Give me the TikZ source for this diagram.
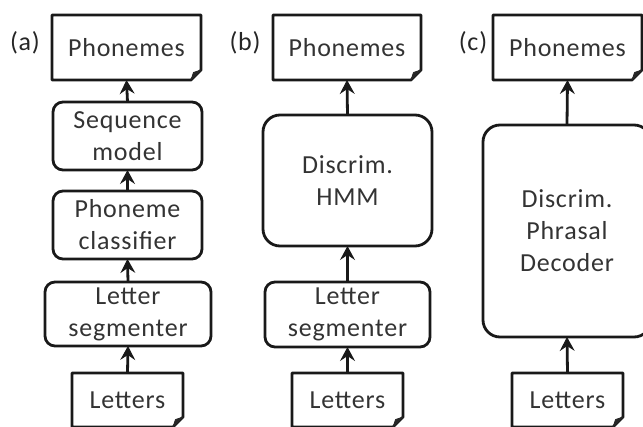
\documentclass[tikz,border=0pt]{standalone}
\usepackage{fontspec}
\setmainfont[LetterSpace=3]{Carlito}
\usetikzlibrary{arrows.meta}

\tikzset{
  txt/.style={font=\fontsize{26}{32}\selectfont, text=black!80, align=center, inner sep=0pt, outer sep=0pt},
  docnode/.style={txt, draw=none},
  stepbox/.style={txt, draw=black!90, line width=2.8pt, rounded corners=10pt},
  bigbox/.style={txt, draw=black!90, line width=2.8pt, rounded corners=17pt},
  docline/.style={draw=black!90, line width=2.8pt, line join=round},
  flap/.style={fill=black!85, draw=black!85, line width=0.8pt, line join=round},
  arr/.style={draw=black!90, line width=2.8pt, -{Stealth[length=14pt, width=15pt, inset=5pt, line width=1pt]}},
  tag/.style={font=\fontsize{26}{32}\selectfont, text=black!85, inner sep=0pt},
}

% folded-corner document outline around a named node
\newcommand\docoutline[1]{%
  \draw[docline] (#1.north west) -- (#1.north east) -- ([yshift=10pt]#1.south east)
    -- ([xshift=-10pt]#1.south east) -- (#1.south west) -- cycle;
  \filldraw[flap] ([yshift=10pt]#1.south east) -- ([xshift=-10pt]#1.south east)
    -- ([xshift=-7.5pt,yshift=7.5pt]#1.south east) -- cycle;
}

\begin{document}
\begin{tikzpicture}[x=1pt, y=-1pt]
\useasboundingbox (0,0) rectangle (643,426);
\clip (0,0) rectangle (643,426);

% column (a)
\node[tag] (ta) at (25,43) {(a)};
\node[docnode, minimum width=149, minimum height=65] (pa) at (126.5,47.5) {Phonemes};
\node[stepbox, minimum width=149, minimum height=68] (sa) at (127.5,136) {Sequence\\model};
\node[stepbox, minimum width=149, minimum height=68] (ca) at (127.5,225) {Phoneme\\classifier};
\node[stepbox, minimum width=166, minimum height=64] (ga) at (128,314) {Letter\\segmenter};
\node[docnode, minimum width=111, minimum height=54] (la) at (127.5,400) {Letters};
\docoutline{pa}
\docoutline{la}
\draw[arr] (la.north) -- (ga.south);
\draw[arr] (ga.north) -- (ca.south);
\draw[arr] (ca.north) -- (sa.south);
\draw[arr] (sa.north) -- (pa.south);

% column (b)
\node[tag] (tb) at (245,43) {(b)};
\node[docnode, minimum width=148, minimum height=65] (pb) at (347,47.5) {Phonemes};
\node[bigbox, minimum width=169, minimum height=131] (hb) at (347.5,180.5) {Discrim.\\HMM};
\node[stepbox, minimum width=165, minimum height=65] (gb) at (347.5,314.5) {Letter\\segmenter};
\node[docnode, minimum width=111, minimum height=54] (lb) at (347.5,400) {Letters};
\docoutline{pb}
\docoutline{lb}
\draw[arr] (lb.north) -- (gb.south);
\draw[arr] (gb.north) -- (hb.south);
\draw[arr] (hb.north) -- (pb.south);

% column (c)
\node[tag] (tc) at (473,43) {(c)};
\node[docnode, minimum width=149, minimum height=65] (pc) at (567.5,47.5) {Phonemes};
\node[bigbox, minimum width=168, minimum height=212] (dc) at (567,231) {Discrim.\\Phrasal\\Decoder};
\node[docnode, minimum width=111, minimum height=54] (lc) at (567.5,400) {Letters};
\docoutline{pc}
\docoutline{lc}
\draw[arr] (lc.north) -- (dc.south);
\draw[arr] (dc.north) -- (pc.south);
\end{tikzpicture}
\end{document}
